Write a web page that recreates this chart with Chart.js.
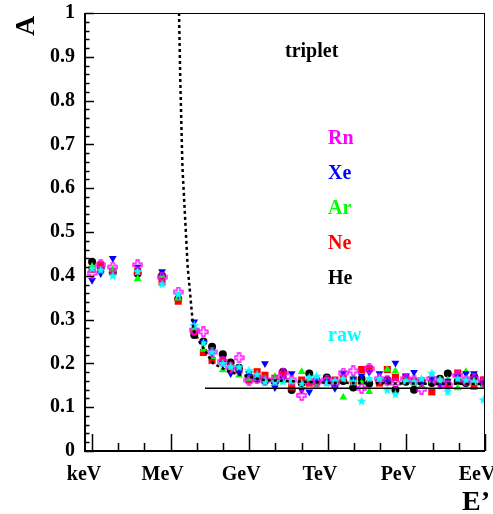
<!DOCTYPE html>
<html>
<head>
<meta charset="utf-8">
<script src="https://cdn.jsdelivr.net/npm/chart.js@4.4.1/dist/chart.umd.min.js"></script>
<style>
  html, body { margin: 0; padding: 0; background: #fff; }
  canvas { display: block; }
</style>
</head>
<body>
<canvas id="chart" width="493" height="514"></canvas>
<script>
// energies as log10(E / eV)
const energies = [3.00, 3.33, 3.79, 4.74, 5.67, 6.29, 6.90, 7.25, 7.58, 7.99,
  8.29, 8.61, 8.99, 9.30, 9.60, 9.98, 10.29, 10.62, 11.00, 11.29,
  11.57, 11.96, 12.27, 12.59, 12.97, 13.29, 13.58, 13.97, 14.27, 14.58,
  14.98, 15.29, 15.58, 15.97, 16.28, 16.58, 16.96, 17.27, 17.58, 17.94];

const heVals = [0.432, 0.418, 0.408, 0.405, 0.400, 0.347, 0.265, 0.250, 0.238, 0.221,
  0.202, 0.190, 0.170, 0.165, 0.160, 0.158, 0.181, 0.139, 0.155, 0.177,
  0.160, 0.168, 0.155, 0.160, 0.145, 0.165, 0.154, 0.160, 0.162, 0.140,
  0.158, 0.140, 0.160, 0.155, 0.165, 0.177, 0.160, 0.155, 0.170, 0.155];
const neVals = [0.415, 0.425, 0.410, 0.410, 0.386, 0.342, 0.273, 0.225, 0.207, 0.205,
  0.190, 0.185, 0.162, 0.181, 0.173, 0.166, 0.173, 0.146, 0.162, 0.155,
  0.158, 0.160, 0.162, 0.165, 0.160, 0.186, 0.188, 0.155, 0.186, 0.168,
  0.168, 0.160, 0.160, 0.135, 0.160, 0.150, 0.178, 0.160, 0.148, 0.162];
const arVals = [0.421, 0.410, 0.415, 0.393, 0.400, 0.349, 0.280, 0.232, 0.215, 0.185,
  0.195, 0.173, 0.165, 0.165, 0.165, 0.170, 0.160, 0.158, 0.181, 0.165,
  0.150, 0.160, 0.158, 0.123, 0.165, 0.155, 0.135, 0.165, 0.186, 0.182,
  0.160, 0.155, 0.150, 0.160, 0.162, 0.162, 0.144, 0.181, 0.160, 0.150];
const xeVals = [0.390, 0.405, 0.440, 0.420, 0.410, 0.356, 0.295, 0.250, 0.225, 0.200,
  0.177, 0.180, 0.177, 0.168, 0.200, 0.145, 0.165, 0.177, 0.139, 0.135,
  0.162, 0.160, 0.143, 0.178, 0.165, 0.172, 0.180, 0.177, 0.160, 0.201,
  0.172, 0.180, 0.155, 0.165, 0.150, 0.160, 0.170, 0.177, 0.177, 0.155];
const rnVals = [0.406, 0.425, 0.420, 0.425, 0.397, 0.363, 0.276, 0.272, 0.226, 0.204,
  0.190, 0.213, 0.162, 0.165, 0.162, 0.162, 0.178, 0.162, 0.127, 0.160,
  0.158, 0.162, 0.155, 0.178, 0.183, 0.143, 0.188, 0.165, 0.160, 0.155,
  0.165, 0.160, 0.141, 0.165, 0.155, 0.150, 0.172, 0.160, 0.165, 0.158];
const rawVals = [0.417, 0.413, 0.400, 0.410, 0.381, 0.358, 0.287, 0.247, 0.226, 0.200,
  0.192, 0.192, 0.184, 0.175, 0.158, 0.158, 0.158, 0.160, 0.155, 0.168,
  0.171, 0.155, 0.160, 0.165, 0.158, 0.114, 0.165, 0.165, 0.139, 0.130,
  0.160, 0.158, 0.165, 0.178, 0.162, 0.135, 0.165, 0.162, 0.158, 0.117];

// dotted curve
const curveE = [6.32, 6.37, 6.45, 6.55, 6.65, 6.87, 7.12, 7.62, 8.27, 9.53, 12.0, 15.0, 18.0];
const curveA = [1.00, 0.84, 0.648, 0.534, 0.42, 0.276, 0.247, 0.200, 0.180, 0.162, 0.156, 0.154, 0.153];

// solid reference line
const refE = [7.31, 18.0];
const refA = [0.143, 0.143];

const tickValues = [3, 6, 9, 12, 15, 18];
const tickLabels = ['keV', 'MeV', 'GeV', 'TeV', 'PeV', 'EeV'];

const SERIF = '"Liberation Serif", "Times New Roman", serif';

function toPoints(xs, ys) {
    return xs.map((x, i) => ({ x: x, y: ys[i] }));
}

// open cross marker (ROOT style 28)
function makeOpenCross(color) {
    const c = document.createElement('canvas');
    c.width = 11; c.height = 11;
    const g = c.getContext('2d');
    g.strokeStyle = color;
    g.lineWidth = 1.3;
    g.beginPath();
    g.moveTo(4, 1); g.lineTo(7, 1); g.lineTo(7, 4); g.lineTo(10, 4); g.lineTo(10, 7);
    g.lineTo(7, 7); g.lineTo(7, 10); g.lineTo(4, 10); g.lineTo(4, 7); g.lineTo(1, 7);
    g.lineTo(1, 4); g.lineTo(4, 4); g.closePath();
    g.stroke();
    return c;
}

// filled star marker (ROOT style 29)
function makeStar(color) {
    const c = document.createElement('canvas');
    c.width = 11; c.height = 11;
    const g = c.getContext('2d');
    g.fillStyle = color;
    g.beginPath();
    for (let i = 0; i < 10; i++) {
        const r = i % 2 === 0 ? 5 : 2.1;
        const a = -Math.PI / 2 + i * Math.PI / 5;
        const px = 5.5 + r * Math.cos(a), py = 5.8 + r * Math.sin(a);
        if (i === 0) g.moveTo(px, py); else g.lineTo(px, py);
    }
    g.closePath();
    g.fill();
    return c;
}

// frame, inward ticks and free text, ROOT look
const framePlugin = {
    id: 'frame',
    afterDraw(chart) {
        const ctx = chart.ctx;
        const a = chart.chartArea;
        const xs = chart.scales.x, ys = chart.scales.y;
        ctx.save();
        ctx.strokeStyle = '#000';
        ctx.lineWidth = 1;
        ctx.strokeRect(a.left + 0.5, a.top + 0.5, a.right - a.left - 1, a.bottom - a.top);

        ctx.lineWidth = 2;
        ctx.beginPath();
        ctx.moveTo(a.left, a.top); ctx.lineTo(a.left, a.bottom);
        ctx.lineTo(a.right, a.bottom);
        ctx.stroke();

        ctx.lineWidth = 1.5;
        ctx.beginPath();
        for (let i = 0; i <= 50; i++) {
            const py = Math.round(ys.getPixelForValue(i / 50)) + 0.5;
            const len = i % 5 === 0 ? 9 : 4.5;
            ctx.moveTo(a.left, py); ctx.lineTo(a.left + len, py);
        }
        for (let e = 3; e <= 18; e++) {
            const px = Math.round(xs.getPixelForValue(e)) + 0.5;
            const len = e % 3 === 0 ? 17 : 8;
            ctx.moveTo(px, a.bottom); ctx.lineTo(px, a.bottom - len);
        }
        ctx.stroke();

        ctx.fillStyle = '#000';
        ctx.font = 'bold 28px ' + SERIF;
        ctx.textAlign = 'center';
        ctx.textBaseline = 'middle';
        ctx.save();
        ctx.translate(27, 26);
        ctx.rotate(-Math.PI / 2);
        ctx.fillText('A', 0, 0);
        ctx.restore();

        ctx.font = 'bold 28px ' + SERIF;
        ctx.textAlign = 'right';
        ctx.textBaseline = 'alphabetic';
        ctx.fillText('E\u2019', 490, 510);

        ctx.font = 'bold 20px ' + SERIF;
        ctx.textAlign = 'left';
        ctx.fillText('triplet', 285, 57);
        const notes = [
            ['Rn', '#ff00ff', 144],
            ['Xe', '#0000ff', 179],
            ['Ar', '#00ff00', 214],
            ['Ne', '#ff0000', 249],
            ['He', '#000000', 284],
            ['raw', '#00ffff', 341]
        ];
        notes.forEach(n => {
            ctx.fillStyle = n[1];
            ctx.fillText(n[0], 328, n[2]);
        });
        ctx.restore();
    }
};

function markerSet(label, vals, color, style, radius, rotation) {
    return {
        label: label,
        data: toPoints(energies, vals),
        showLine: false,
        pointStyle: style,
        pointRadius: radius,
        pointRotation: rotation || 0,
        backgroundColor: color,
        borderColor: color,
        borderWidth: 0
    };
}

new Chart(document.getElementById('chart').getContext('2d'), {
    type: 'scatter',
    data: {
        datasets: [
            {
                label: 'curve',
                data: toPoints(curveE, curveA),
                showLine: true,
                borderColor: '#000',
                borderWidth: 2.5,
                borderDash: [3, 3],
                pointRadius: 0,
                fill: false
            },
            {
                label: 'ref',
                data: toPoints(refE, refA),
                showLine: true,
                borderColor: '#000',
                borderWidth: 1.5,
                pointRadius: 0,
                fill: false
            },
            markerSet('raw', rawVals, '#00ffff', makeStar('#00ffff'), 5),
            markerSet('Rn', rnVals, '#ff00ff', makeOpenCross('#ff00ff'), 5),
            markerSet('Xe', xeVals, '#0000ff', 'triangle', 4.5, 180),
            markerSet('Ar', arVals, '#00ff00', 'triangle', 4.5),
            markerSet('Ne', neVals, '#ff0000', 'rect', 5),
            markerSet('He', heVals, '#000000', 'circle', 4)
        ]
    },
    options: {
        responsive: false,
        animation: false,
        devicePixelRatio: 1,
        layout: { padding: { top: 13, right: 8, left: 0, bottom: 0 } },
        plugins: {
            legend: { display: false },
            tooltip: { enabled: false }
        },
        scales: {
            x: {
                type: 'linear',
                min: 2.73,
                max: 18,
                afterBuildTicks: (s) => { s.ticks = tickValues.map(v => ({ value: v })); },
                afterFit: (s) => { s.height = 63; s.paddingLeft = 0; s.paddingRight = 0; },
                grid: { display: false, drawTicks: false },
                border: { display: false },
                ticks: {
                    autoSkip: false,
                    maxRotation: 0,
                    padding: 12,
                    labelOffset: -8,
                    color: '#000',
                    font: { family: SERIF, size: 20, weight: 'bold' },
                    callback: (v) => tickLabels[tickValues.indexOf(v)]
                }
            },
            y: {
                min: 0,
                max: 1,
                afterFit: (s) => { s.width = 85; s.paddingTop = 0; s.paddingBottom = 0; },
                grid: { display: false, drawTicks: false },
                border: { display: false },
                ticks: {
                    stepSize: 0.1,
                    padding: 10,
                    color: '#000',
                    font: { family: SERIF, size: 20, weight: 'bold' },
                    callback: (v) => String(Math.round(v * 10) / 10)
                }
            }
        }
    },
    plugins: [framePlugin]
});
</script>
</body>
</html>
